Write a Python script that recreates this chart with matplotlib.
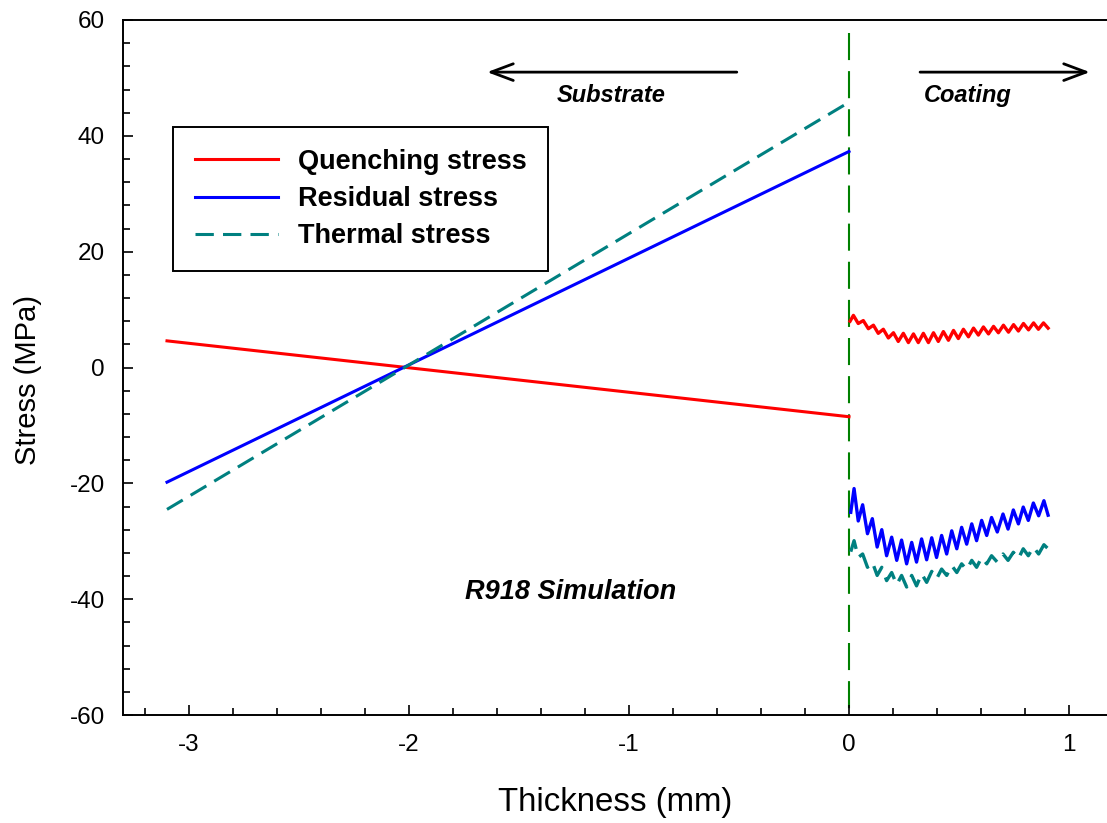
import matplotlib
matplotlib.use('Agg')
import matplotlib.pyplot as plt
from matplotlib.ticker import MultipleLocator

plt.rcParams['font.family'] = ['Liberation Sans', 'DejaVu Sans']
plt.rcParams['axes.unicode_minus'] = False

# ---- data ----
sub_x = [-3.1, 0.0]
quench_sub = [4.6, -8.5]
resid_sub = [-19.8, 37.3]
thermal_sub = [-24.5, 45.8]

quench_coat_x = [0.005, 0.020, 0.042, 0.065, 0.088, 0.111, 0.133, 0.156, 0.179, 0.202,
                 0.224, 0.247, 0.270, 0.293, 0.315, 0.338, 0.361, 0.384, 0.406, 0.429,
                 0.452, 0.475, 0.497, 0.520, 0.543, 0.566, 0.588, 0.611, 0.634, 0.657,
                 0.679, 0.702, 0.725, 0.748, 0.770, 0.793, 0.816, 0.839, 0.861, 0.884, 0.905]
quench_coat = [8.0, 9.0, 7.6, 8.1, 6.7, 7.3, 5.9, 6.6, 5.1, 6.0, 4.5, 5.9, 4.3, 5.8, 4.3,
               5.9, 4.3, 6.0, 4.5, 6.2, 4.7, 6.4, 5.0, 6.6, 5.3, 6.8, 5.6, 7.0, 5.8, 7.1,
               6.0, 7.3, 6.1, 7.4, 6.3, 7.6, 6.5, 7.7, 6.6, 7.7, 6.8]

coat_x = [0.008, 0.023, 0.042, 0.062, 0.084, 0.106, 0.128, 0.149, 0.171, 0.194,
          0.217, 0.239, 0.262, 0.285, 0.307, 0.330, 0.353, 0.376, 0.398, 0.421,
          0.444, 0.467, 0.490, 0.512, 0.535, 0.558, 0.580, 0.603, 0.626, 0.648,
          0.674, 0.700, 0.723, 0.747, 0.770, 0.792, 0.815, 0.838, 0.862, 0.886, 0.905]
resid_coat = [-25.0, -20.9, -26.5, -23.7, -28.7, -26.1, -31.0, -28.0, -32.5, -29.3,
              -33.3, -29.8, -33.9, -30.2, -33.6, -29.6, -33.2, -29.4, -32.8, -29.0,
              -32.2, -28.2, -31.3, -27.6, -30.5, -27.0, -29.9, -26.4, -29.0, -25.9,
              -28.4, -25.3, -27.9, -24.6, -27.0, -24.1, -26.4, -23.4, -25.6, -23.0, -25.5]
thermal_coat = [-31.8, -29.9, -32.8, -32.2, -34.5, -33.6, -35.9, -34.5, -36.8, -35.4,
                -37.5, -35.9, -37.9, -35.9, -37.7, -35.6, -37.1, -35.2, -36.5, -34.8,
                -35.9, -34.2, -35.4, -33.9, -34.9, -33.3, -34.5, -32.8, -33.9, -32.5,
                -33.6, -32.2, -33.3, -31.9, -33.0, -31.3, -32.5, -31.0, -32.2, -30.6, -31.3]

interface_x = [0.0, 0.0]
interface_y = [57.7, -60.0]

labels = ['Quenching stress', 'Residual stress', 'Thermal stress']
colors = ['#FF0000', '#0000FF', '#008080']

# ---- figure ----
fig = plt.figure(figsize=(11.07, 8.23), dpi=100)
ax = fig.add_axes([123/1107, 1 - 715/823, 984/1107, 695/823])

lw = 2.2
dash = (0, (6, 3))
ax.plot(interface_x, interface_y, color='#008000', lw=1.5,
        linestyle=(0, (13, 5.3)), zorder=1)

ax.plot(sub_x, quench_sub, color=colors[0], lw=lw, label=labels[0])
ax.plot(sub_x, resid_sub, color=colors[1], lw=lw, label=labels[1])
ax.plot(sub_x, thermal_sub, color=colors[2], lw=lw, linestyle=dash, label=labels[2])

ax.plot(quench_coat_x, quench_coat, color=colors[0], lw=2.4, solid_joinstyle='round')
ax.plot(coat_x, resid_coat, color=colors[1], lw=2.4, solid_joinstyle='round')
ax.plot(coat_x, thermal_coat, color=colors[2], lw=2.4, linestyle=dash,
        dash_joinstyle='round')

ax.set_xlim(-3.3, (1107 - 849) / 220)
ax.set_ylim(-60, 60)

ax.xaxis.set_major_locator(MultipleLocator(1))
ax.xaxis.set_minor_locator(MultipleLocator(0.2))
ax.yaxis.set_major_locator(MultipleLocator(20))
ax.yaxis.set_minor_locator(MultipleLocator(4))
ax.tick_params(which='both', direction='in', width=1.2, labelsize=17.5)
ax.tick_params(which='major', length=7.5)
ax.tick_params(which='minor', length=4.8)
ax.tick_params(axis='y', pad=13)
ax.tick_params(axis='x', pad=14)
ax.spines['right'].set_visible(False)
for s in ['left', 'top', 'bottom']:
    ax.spines[s].set_linewidth(1.4)

ax.set_xlabel('Thickness (mm)', fontsize=23.8, labelpad=22)
ax.set_ylabel('Stress (MPa)', fontsize=21)
ax.yaxis.set_label_coords(-0.0823, 0.482)

leg = ax.legend(loc='upper left', bbox_to_anchor=(50/984, 1 - 107/695),
                borderaxespad=0, prop={'weight': 'bold', 'size': 19.5},
                handlelength=3.07, handletextpad=0.74, borderpad=0.8,
                labelspacing=0.42, fancybox=False, framealpha=1, edgecolor='black')
leg.get_frame().set_linewidth(1.4)

arrow_style = '->,head_length=0.8,head_width=0.3'
ax.annotate('', xy=(-1.645, 51), xytext=(-0.51, 51),
            arrowprops=dict(arrowstyle=arrow_style, lw=2, color='black',
                            mutation_scale=20, shrinkA=0, shrinkB=0))
ax.annotate('', xy=(1.095, 51), xytext=(0.323, 51),
            arrowprops=dict(arrowstyle=arrow_style, lw=2, color='black',
                            mutation_scale=20, shrinkA=0, shrinkB=0))
ax.text(-1.08, 47.0, 'Substrate', ha='center', va='center', fontsize=17,
        fontweight='bold', fontstyle='italic')
ax.text(0.54, 47.0, 'Coating', ha='center', va='center', fontsize=17,
        fontweight='bold', fontstyle='italic')
ax.text(-1.264, -38.7, 'R918 Simulation', ha='center', va='center', fontsize=19.5,
        fontweight='bold', fontstyle='italic')

fig.savefig('out.png', dpi=100)
